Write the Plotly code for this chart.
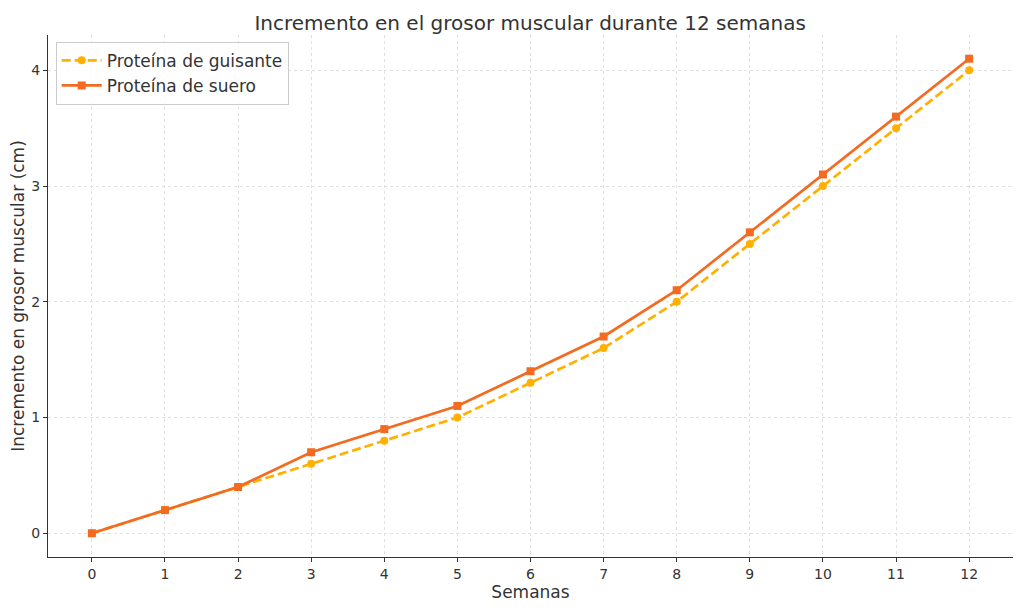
import plotly.graph_objects as go

semanas = list(range(13))
guisante = [0, 0.2, 0.4, 0.6, 0.8, 1.0, 1.3, 1.6, 2.0, 2.5, 3.0, 3.5, 4.0]
suero = [0, 0.2, 0.4, 0.7, 0.9, 1.1, 1.4, 1.7, 2.1, 2.6, 3.1, 3.6, 4.1]
x_ticks = list(range(13))
y_ticks = [0, 1, 2, 3, 4]

fig = go.Figure()
fig.add_trace(go.Scatter(
    x=semanas, y=guisante, mode="lines+markers", name="Proteína de guisante",
    line=dict(color="#FFB000", width=2.7, dash="9px,4px"),
    marker=dict(symbol="circle", size=8, color="#FFB000"),
))
fig.add_trace(go.Scatter(
    x=semanas, y=suero, mode="lines+markers", name="Proteína de suero",
    line=dict(color="#F26B21", width=2.7),
    marker=dict(symbol="square", size=8, color="#F26B21"),
))

font = "DejaVu Sans"
fig.update_layout(
    width=1008, height=594,
    margin=dict(l=40, r=3, t=27, b=45),
    paper_bgcolor="white", plot_bgcolor="white",
    font=dict(family=font, size=14, color="#333333"),
    title=dict(text="Incremento en el grosor muscular durante 12 semanas",
               x=0.518, xanchor="center", y=0.975, yanchor="middle",
               font=dict(size=20, color="#333333")),
    xaxis=dict(
        title=dict(text="Semanas", font=dict(size=17), standoff=6),
        range=[-0.6, 12.6], tickvals=x_ticks, ticktext=[str(v) for v in x_ticks],
        showgrid=True, gridcolor="#e0e0e0", griddash="3px,3px", gridwidth=1,
        showline=True, linecolor="#333333", linewidth=1.3,
        ticks="outside", ticklen=4, tickcolor="#333333",
        zeroline=False, automargin=False,
    ),
    yaxis=dict(
        title=dict(text="Incremento en grosor muscular (cm)", font=dict(size=17), standoff=10),
        range=[-0.205, 4.305], tickvals=y_ticks, ticktext=[str(v) for v in y_ticks],
        showgrid=True, gridcolor="#e0e0e0", griddash="3px,3px", gridwidth=1,
        showline=True, linecolor="#333333", linewidth=1.3,
        ticks="outside", ticklen=4, tickcolor="#333333",
        zeroline=False, automargin=False,
    ),
    legend=dict(
        x=0.008, y=0.987, xanchor="left", yanchor="top",
        bgcolor="rgba(255,255,255,0.8)", bordercolor="#cccccc", borderwidth=1,
        font=dict(size=17, color="#333333"), itemwidth=40,
        tracegroupgap=0,
    ),
)

fig.write_html("out.html")
